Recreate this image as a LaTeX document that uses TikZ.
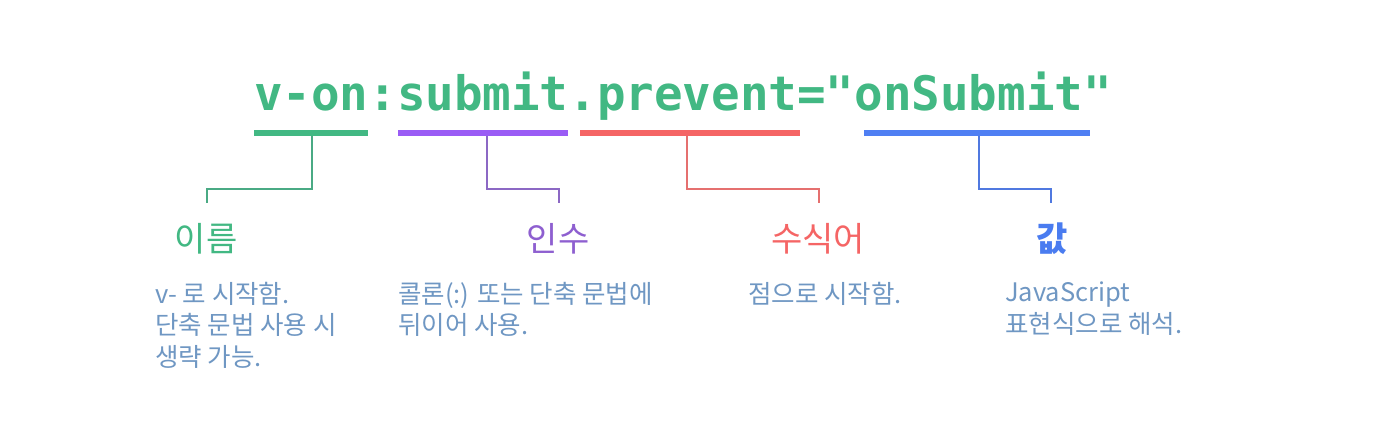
\documentclass[tikz,border=0pt]{standalone}
\usepackage{fontspec}
\newfontfamily\kr{Noto Sans CJK KR}
\newfontfamily\codefont{DejaVu Sans Mono}
\definecolor{codegreen}{HTML}{42B883}
\definecolor{gbar}{HTML}{42B883}
\definecolor{gline}{HTML}{4AAA84}
\definecolor{pbar}{HTML}{9A5CF5}
\definecolor{pline}{HTML}{8C68C4}
\definecolor{plab}{HTML}{8E5FD0}
\definecolor{rbar}{HTML}{F56565}
\definecolor{rline}{HTML}{E5706F}
\definecolor{rlab}{HTML}{F56565}
\definecolor{bbar}{HTML}{4F7FF3}
\definecolor{bline}{HTML}{5079E0}
\definecolor{blab}{HTML}{4A7CF0}
\definecolor{desc}{HTML}{6F97C3}
\tikzset{
  bar/.style={fill=#1, draw=none, minimum height=6pt, inner sep=0pt, outer sep=0pt},
  conn/.style={draw=#1, line width=1.6pt},
  lab/.style={text=#1, font=\kr\fontsize{34}{40}\selectfont, inner sep=0pt},
  desctext/.style={text=desc, font=\kr\fontsize{25.5}{31.5}\selectfont, inner sep=0pt, align=left, anchor=north west},
}
\begin{document}
\begin{tikzpicture}[x=1pt,y=-1pt]
\path[use as bounding box, fill=white] (0,0) rectangle (1376,440);
\node[text=codegreen, font=\codefont\bfseries\fontsize{47.5}{50}\selectfont, inner sep=0pt, anchor=base] (code) at (683,110) {v-on:submit.prevent="onSubmit"};
% bars
\node[bar=gbar, minimum width=114pt] (b1) at (311,133) {};
\node[bar=pbar, minimum width=170pt] (b2) at (483,133) {};
\node[bar=rbar, minimum width=220pt] (b3) at (690,133) {};
\node[bar=bbar, minimum width=226pt] (b4) at (977,133) {};
% labels
\node[lab=gbar] (l1) at (206,239) {이름};
\node[lab=plab] (l2) at (558,239) {인수};
\node[lab=rlab] (l3) at (818,239) {수식어};
\node[lab=blab, font=\kr\bfseries\fontsize{34}{40}\selectfont] (l4) at (1052,239) {값};
% connector ends
\coordinate (c1) at (207,203);
\coordinate (c2) at (559,203);
\coordinate (c3) at (819,203);
\coordinate (c4) at (1051,203);
\draw[conn=gline] (b1.south -| 312,0) -- (312,189) -| (c1);
\draw[conn=pline] (b2.south -| 487,0) -- (487,189) -| (c2);
\draw[conn=rline] (b3.south -| 687,0) -- (687,189) -| (c3);
\draw[conn=bline] (b4.south -| 979,0) -- (979,189) -| (c4);
% descriptions
\node[desctext] (d1) at (155,282) {v- 로 시작함.\\단축 문법 사용 시\\생략 가능.};
\node[desctext] (d2) at (398,282) {콜론(:) 또는 단축 문법에\\뒤이어 사용.};
\node[desctext] (d3) at (748,282) {점으로 시작함.};
\node[desctext] (d4) at (1005,282) {JavaScript\\표현식으로 해석.};
\end{tikzpicture}
\end{document}
